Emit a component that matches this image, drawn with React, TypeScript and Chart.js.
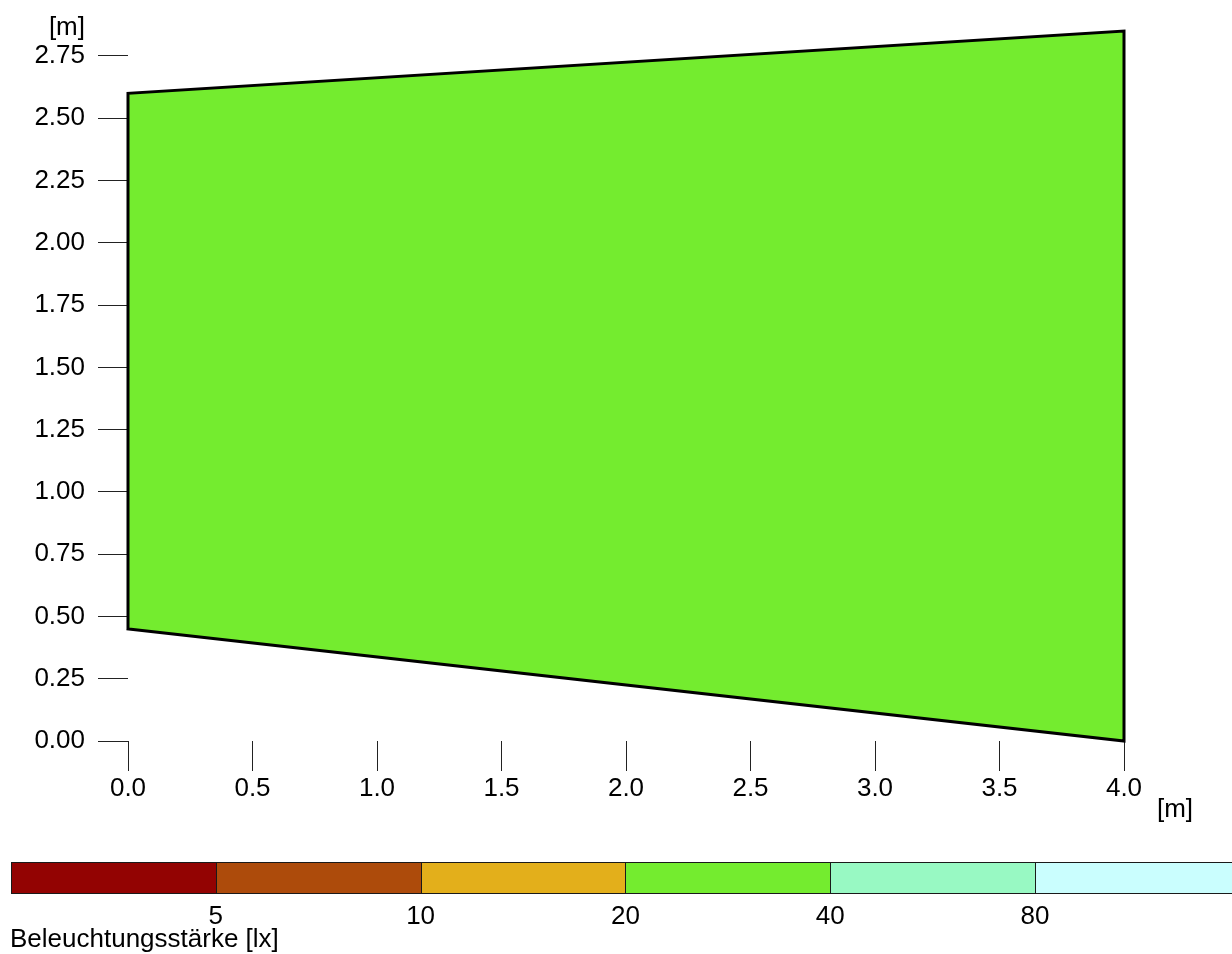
import React, { useEffect, useRef } from 'react';
import { Chart, registerables } from 'chart.js';

Chart.register(...registerables);

// ---- data ----
const xTickValues = [0, 0.5, 1, 1.5, 2, 2.5, 3, 3.5, 4];
const yTickValues = [0, 0.25, 0.5, 0.75, 1, 1.25, 1.5, 1.75, 2, 2.25, 2.5, 2.75];
const surfaceX = [0, 0, 4, 4, 0];
const surfaceY = [0.45, 2.6, 2.85, 0, 0.45];
const surfaceColor = '#74EC2F';
const legendThresholds = [5, 10, 20, 40, 80];
const legendColors = ['#930302', '#AD4B0B', '#E3AF1B', '#74EC2F', '#98F9C3', '#CAFEFE'];
const axisUnit = '[m]';
const legendTitle = 'Beleuchtungsstärke [lx]';

const FONT = '"Liberation Sans", Arial, Helvetica, sans-serif';
const FONT_SIZE = 26;
const Y_MAX = 2.9;

const overlayPlugin = {
  id: 'overlay',
  afterDraw(chart: any) {
    const ctx = chart.ctx as CanvasRenderingContext2D;
    const { left, right, bottom } = chart.chartArea;
    const ys = chart.scales.y;
    ctx.save();
    ctx.font = `${FONT_SIZE}px ${FONT}`;
    ctx.fillStyle = '#000';
    ctx.textBaseline = 'alphabetic';
    // axis units
    ctx.textAlign = 'right';
    ctx.fillText(axisUnit, left - 43, ys.getPixelForValue(yTickValues[yTickValues.length - 1]) - 21);
    ctx.textAlign = 'center';
    ctx.fillText(axisUnit, right + 51, bottom + 76);

    // colour legend
    const barLeft = 11;
    const barTop = 862.5;
    const barH = 31;
    const segW = 204.8;
    for (let i = 0; i < legendColors.length; i++) {
      const x0 = Math.round(barLeft + i * segW) + 0.5;
      const x1 = Math.round(barLeft + (i + 1) * segW) + 0.5;
      ctx.fillStyle = legendColors[i];
      ctx.fillRect(x0, barTop, x1 - x0, barH);
      ctx.strokeStyle = '#1a1a1a';
      ctx.lineWidth = 1;
      ctx.strokeRect(x0, barTop, x1 - x0, barH);
    }
    ctx.fillStyle = '#000';
    ctx.textAlign = 'center';
    legendThresholds.forEach((t, i) => {
      const x = barLeft + (i + 1) * segW;
      ctx.fillText(String(t), x, 924);
    });
    ctx.textAlign = 'left';
    ctx.fillText(legendTitle, 10, 947);
    ctx.restore();
  },
};

export default function App() {
  const canvasRef = useRef<HTMLCanvasElement | null>(null);

  useEffect(() => {
    document.body.style.margin = '0';
    document.body.style.overflow = 'hidden';
    const canvas = canvasRef.current;
    if (!canvas) return;

    const points = surfaceX.map((x, i) => ({ x, y: surfaceY[i] }));
    const yLast = yTickValues[yTickValues.length - 1];
    const topPad = 741 - ((741 - 56) * Y_MAX) / yLast;

    const chart = new Chart(canvas, {
      type: 'line',
      data: {
        datasets: [
          {
            data: points,
            borderColor: '#000',
            borderWidth: 3,
            backgroundColor: surfaceColor,
            fill: 'shape',
            pointRadius: 0,
            tension: 0,
            clip: false,
            borderJoinStyle: 'miter',
            borderCapStyle: 'square',
          } as any,
        ],
      },
      options: {
        animation: false,
        responsive: false,
        devicePixelRatio: 1,
        layout: { padding: { left: 0, top: topPad, right: 108, bottom: 153 } },
        plugins: { legend: { display: false }, tooltip: { enabled: false } },
        scales: {
          x: {
            type: 'linear',
            min: 0,
            max: 4,
            afterBuildTicks: (s: any) => {
              s.ticks = xTickValues.map((v) => ({ value: v }));
            },
            afterFit: (s: any) => {
              s.height = 60;
              s.paddingLeft = 0;
              s.paddingRight = 0;
              s.paddingTop = 0;
              s.paddingBottom = 0;
            },
            grid: { drawOnChartArea: false, drawTicks: true, tickLength: 30, color: '#222', tickColor: '#222', lineWidth: 1 },
            border: { display: false },
            ticks: {
              padding: 2,
              color: '#000',
              autoSkip: false,
              maxRotation: 0,
              font: { family: FONT, size: FONT_SIZE },
              callback: (v: any) => Number(v).toFixed(1),
            },
          },
          y: {
            type: 'linear',
            min: 0,
            max: Y_MAX,
            afterBuildTicks: (s: any) => {
              s.ticks = yTickValues.map((v) => ({ value: v }));
            },
            afterFit: (s: any) => {
              s.width = 128;
              s.paddingLeft = 0;
              s.paddingRight = 0;
              s.paddingTop = 0;
              s.paddingBottom = 0;
            },
            grid: { drawOnChartArea: false, drawTicks: true, tickLength: 30, color: '#222', tickColor: '#222', lineWidth: 1 },
            border: { display: false },
            ticks: {
              padding: 13,
              color: '#000',
              autoSkip: false,
              font: { family: FONT, size: FONT_SIZE },
              callback: (v: any) => Number(v).toFixed(2),
            },
          },
        },
      },
      plugins: [overlayPlugin],
    });
    return () => chart.destroy();
  }, []);

  return (
    <div style={{ width: 1232, height: 954, position: 'relative' }}>
      <canvas ref={canvasRef} width={1232} height={954} style={{ display: 'block' }} />
    </div>
  );
}
